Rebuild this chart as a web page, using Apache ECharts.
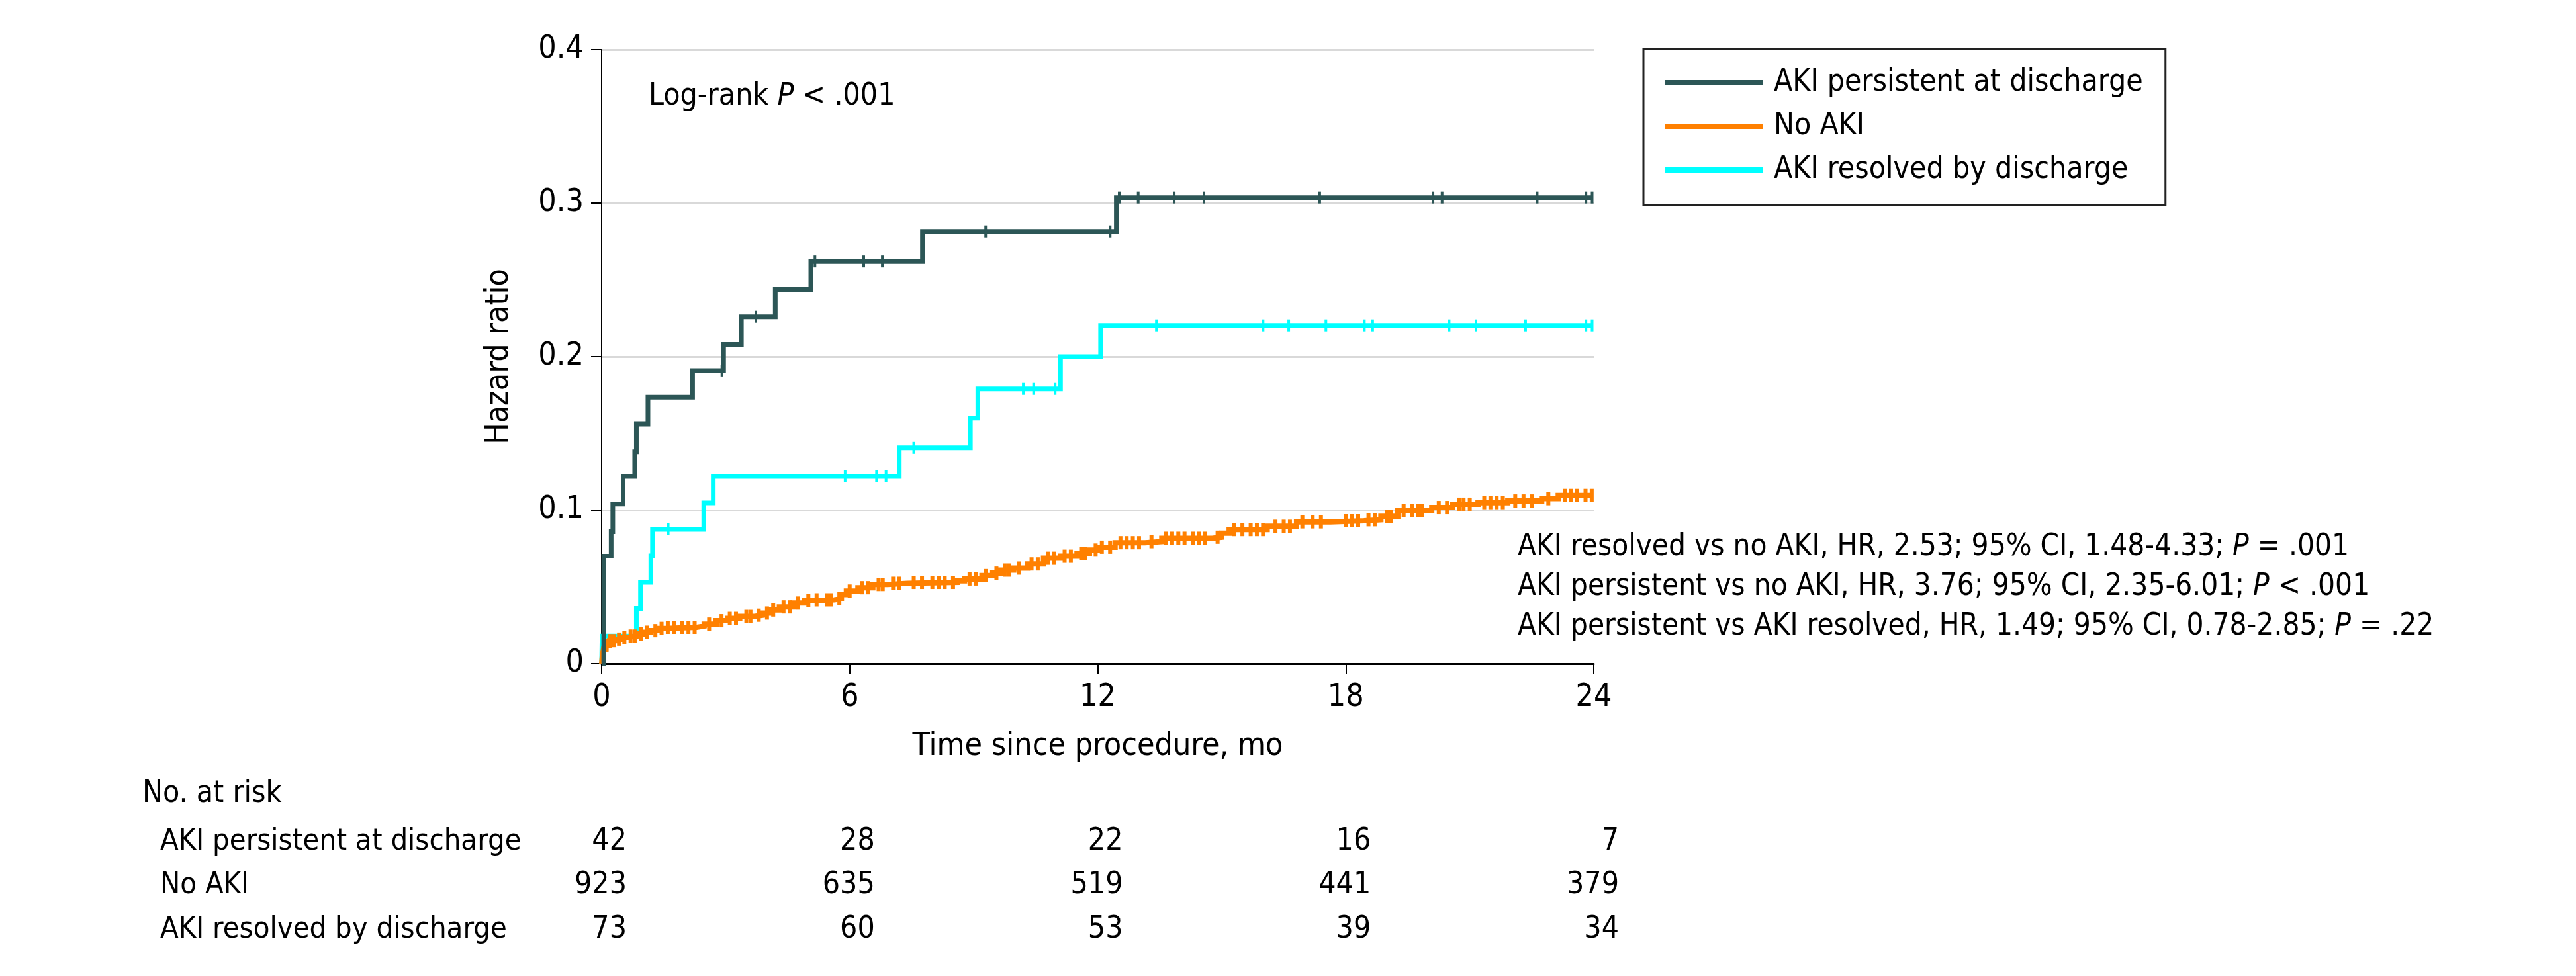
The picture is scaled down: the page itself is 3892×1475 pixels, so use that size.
<!DOCTYPE html>
<html><head><meta charset="utf-8">
<script src="https://cdn.jsdelivr.net/npm/echarts@6/dist/echarts.min.js"></script>
<style>html,body{margin:0;padding:0;background:#fff}#c{width:3892px;height:1475px}</style>
</head><body><div id="c"></div>
<script>
// ---------- data ----------
const xTicks = [0, 6, 12, 18, 24];
const yTicks = [0, 0.1, 0.2, 0.3, 0.4];
const seriesNames = ['AKI persistent at discharge', 'No AKI', 'AKI resolved by discharge'];
const seriesColors = ['#2C5656', '#FF8000', '#00FFFF'];

// cumulative curves: [months, value]; value holds from that time on
const persistentCurve = [[0,0],[0.05,0.070],[0.23,0.086],[0.27,0.104],[0.52,0.122],[0.80,0.138],[0.84,0.156],[1.12,0.1736],[2.20,0.191],[2.95,0.208],[3.38,0.226],[4.20,0.2437],[5.06,0.262],[7.76,0.2816],[12.45,0.3036],[23.96,0.3036]];
const noAkiCurve = [[0,0],[0.02,0.006],[0.05,0.010],[0.10,0.012],[0.19,0.015],[0.35,0.016],[0.48,0.0172],[0.65,0.018],[0.84,0.0194],[1.0,0.0205],[1.19,0.0215],[1.4,0.023],[1.55,0.0237],[2.3,0.0245],[2.48,0.0258],[2.77,0.028],[3.05,0.0295],[3.34,0.0308],[3.7,0.0316],[3.9,0.033],[4.06,0.035],[4.3,0.037],[4.63,0.0395],[4.9,0.041],[5.13,0.0416],[5.63,0.0423],[5.8,0.045],[5.92,0.0473],[6.2,0.0495],[6.56,0.0516],[6.92,0.0524],[7.4,0.053],[8.6,0.054],[8.78,0.0552],[9.2,0.0574],[9.46,0.059],[9.64,0.061],[9.97,0.0623],[10.3,0.065],[10.69,0.0687],[11.1,0.070],[11.5,0.0716],[11.8,0.074],[12.01,0.0759],[12.42,0.0788],[13.14,0.0795],[13.55,0.0817],[14.77,0.0824],[15.0,0.085],[15.18,0.0874],[16.1,0.0895],[16.81,0.0924],[17.63,0.0931],[18.44,0.0938],[18.85,0.096],[19.26,0.0996],[20.08,0.1017],[20.59,0.1039],[21.2,0.1049],[21.92,0.106],[22.74,0.1075],[23.14,0.1096],[23.96,0.1096]];
const resolvedCurve = [[0,0],[0.01,0.018],[0.84,0.036],[0.94,0.053],[1.19,0.0703],[1.23,0.0875],[2.47,0.1047],[2.70,0.122],[7.20,0.1406],[8.92,0.160],[9.10,0.179],[11.10,0.200],[12.07,0.2204],[23.96,0.2204]];

// censoring times (months)
const persistentCensor = [2.91,3.73,5.16,6.34,6.79,9.29,12.30,12.52,12.98,13.85,14.57,17.37,20.11,20.33,22.63,23.81,23.96];
const noAkiCensor = [0.05,0.12,0.2,0.3,0.42,0.55,0.7,0.8,0.95,1.1,1.3,1.45,1.6,1.75,1.95,2.1,2.25,2.6,2.9,3.1,3.25,3.5,3.6,3.8,4.0,4.15,4.4,4.55,4.75,5.0,5.2,5.45,5.55,5.75,6.0,6.3,6.45,6.7,6.8,7.05,7.2,7.55,7.75,8.0,8.15,8.3,8.5,8.9,9.05,9.3,9.55,9.75,9.85,10.1,10.4,10.55,10.8,10.95,11.2,11.35,11.6,11.7,11.95,12.1,12.3,12.55,12.7,12.85,13.0,13.3,13.65,13.8,13.95,14.1,14.3,14.45,14.6,14.9,15.3,15.5,15.7,15.85,16.0,16.3,16.5,16.65,16.95,17.2,17.4,18.0,18.15,18.3,18.55,18.7,19.0,19.1,19.4,19.6,19.75,19.85,20.25,20.45,20.75,20.85,21.0,21.35,21.5,21.65,21.8,22.1,22.3,22.5,22.9,23.3,23.45,23.6,23.8,23.95];
const resolvedCensor = [1.61,5.89,6.65,6.88,7.55,10.2,10.45,10.97,13.42,16.0,16.62,17.52,18.45,18.65,20.5,21.15,22.35,23.81,23.96];

// number at risk
const riskTimes = [0, 6, 12, 18, 24];
const riskPersistent = [42, 28, 22, 16, 7];
const riskNoAki = [923, 635, 519, 441, 379];
const riskResolved = [73, 60, 53, 39, 34];

const hrLines = [
  ['AKI resolved vs no AKI, HR, 2.53; 95% CI, 1.48-4.33; ', 'P', ' = .001'],
  ['AKI persistent vs no AKI, HR, 3.76; 95% CI, 2.35-6.01; ', 'P', ' < .001'],
  ['AKI persistent vs AKI resolved, HR, 1.49; 95% CI, 0.78-2.85; ', 'P', ' = .22']
];

// ---------- chart ----------
const FONT = "'Liberation Sans Narrow','DejaVu Sans Condensed','Open Sans',sans-serif";
function valueAt(curve, t) {
  let v = 0;
  for (const p of curve) { if (p[0] <= t) v = p[1]; }
  return v;
}
function censorData(curve, times) { return times.map(t => [t, valueAt(curve, t)]); }

const chart = echarts.init(document.getElementById('c'), null, {renderer: 'canvas'});
const lineSeries = (name, data, color, width, z) => ({
  name, type: 'line', step: 'end', data, showSymbol: false, symbol: 'none', z,
  lineStyle: {color, width, cap: 'butt', join: 'miter'}, itemStyle: {color}, animation: false
});
const tickSeries = (name, data, color, size, z) => ({
  name, type: 'scatter', data, symbol: 'rect', symbolSize: size, z,
  itemStyle: {color, opacity: 1}, animation: false, silent: true
});

const option = {
  animation: false,
  backgroundColor: '#fff',
  grid: {left: 909, right: 3892 - 2408, top: 75, bottom: 1475 - 1003, containLabel: false},
  xAxis: {
    type: 'value', min: 0, max: 24, interval: 6,
    name: 'Time since procedure, mo', nameLocation: 'middle', nameGap: 102,
    nameTextStyle: {fontSize: 48, fontFamily: FONT, color: '#000'},
    axisLine: {lineStyle: {color: '#000', width: 3}},
    axisTick: {length: 16, lineStyle: {color: '#000', width: 2}},
    axisLabel: {fontSize: 48, fontFamily: FONT, color: '#000', margin: 28, formatter: v => xTicks.includes(v) ? String(v) : ''},
    splitLine: {show: false}
  },
  yAxis: {
    type: 'value', min: 0, max: 0.4, interval: 0.1,
    name: 'Hazard ratio', nameLocation: 'middle', nameGap: 130,
    nameTextStyle: {fontSize: 48, fontFamily: FONT, color: '#000'},
    axisLine: {show: true, lineStyle: {color: '#000', width: 2}},
    axisTick: {show: true, length: 16, lineStyle: {color: '#000', width: 2}},
    axisLabel: {fontSize: 48, fontFamily: FONT, color: '#000', margin: 27,
      formatter: v => { const t = yTicks.find(y => Math.abs(y - v) < 1e-9); return t === 0 ? '0' : (t !== undefined ? t.toFixed(1) : ''); }},
    splitLine: {show: true, lineStyle: {color: '#d9d9d9', width: 3}}
  },
  legend: {
    data: seriesNames, orient: 'vertical', left: 2483, top: 74,
    borderColor: '#222', borderWidth: 3, padding: [26, 34, 28, 33],
    itemWidth: 147, itemHeight: 8, itemGap: 16, icon: 'rect',
    textStyle: {fontSize: 46, fontFamily: FONT, color: '#000', lineHeight: 50, padding: [0, 0, 0, 12]},
    selectedMode: false
  },
  series: [
    lineSeries(seriesNames[2], resolvedCurve, seriesColors[2], 7, 2),
    tickSeries('resolved censor', censorData(resolvedCurve, resolvedCensor), seriesColors[2], [4, 18], 2),
    lineSeries(seriesNames[1], noAkiCurve, seriesColors[1], 8, 3),
    tickSeries('noaki censor', censorData(noAkiCurve, noAkiCensor), seriesColors[1], [6, 20], 3),
    lineSeries(seriesNames[0], persistentCurve, seriesColors[0], 7, 4),
    tickSeries('persistent censor', censorData(persistentCurve, persistentCensor), seriesColors[0], [4, 18], 4)
  ]
};
chart.setOption(option);

// ---------- text annotations ----------
const graphics = [];
const rich = (size) => ({
  n: {fontSize: size, fontFamily: FONT, fill: '#000'},
  i: {fontSize: size, fontFamily: FONT, fontStyle: 'italic', fill: '#000'}
});
graphics.push({type: 'text', x: 980, y: 146, style: {
  text: '{n|Log-rank }{i|P}{n| < .001}', rich: rich(46), textVerticalAlign: 'middle', fill: '#000'}});
const hrY = [827, 887, 947];
hrLines.forEach((l, k) => graphics.push({type: 'text', x: 2293, y: hrY[k], style: {
  text: '{n|' + l[0] + '}{i|' + l[1] + '}{n|' + l[2] + '}', rich: rich(45.5), textVerticalAlign: 'middle', fill: '#000'}}));

graphics.push({type: 'text', x: 215, y: 1200, style: {text: 'No. at risk', fontSize: 46, fontFamily: FONT, fill: '#000', textVerticalAlign: 'middle'}});
const riskRows = [riskPersistent, riskNoAki, riskResolved];
const rowY = [1272, 1338, 1405];
riskRows.forEach((row, r) => {
  graphics.push({type: 'text', x: 242, y: rowY[r], style: {text: seriesNames[r], fontSize: 45, fontFamily: FONT, fill: '#000', textVerticalAlign: 'middle'}});
  row.forEach((n, j) => {
    const px = chart.convertToPixel({xAxisIndex: 0}, riskTimes[j]);
    graphics.push({type: 'text', x: px + 38, y: rowY[r], style: {text: String(n), fontSize: 46, fontFamily: FONT, fill: '#000', textAlign: 'right', textVerticalAlign: 'middle'}});
  });
});
chart.setOption({graphic: graphics});
</script></body></html>
